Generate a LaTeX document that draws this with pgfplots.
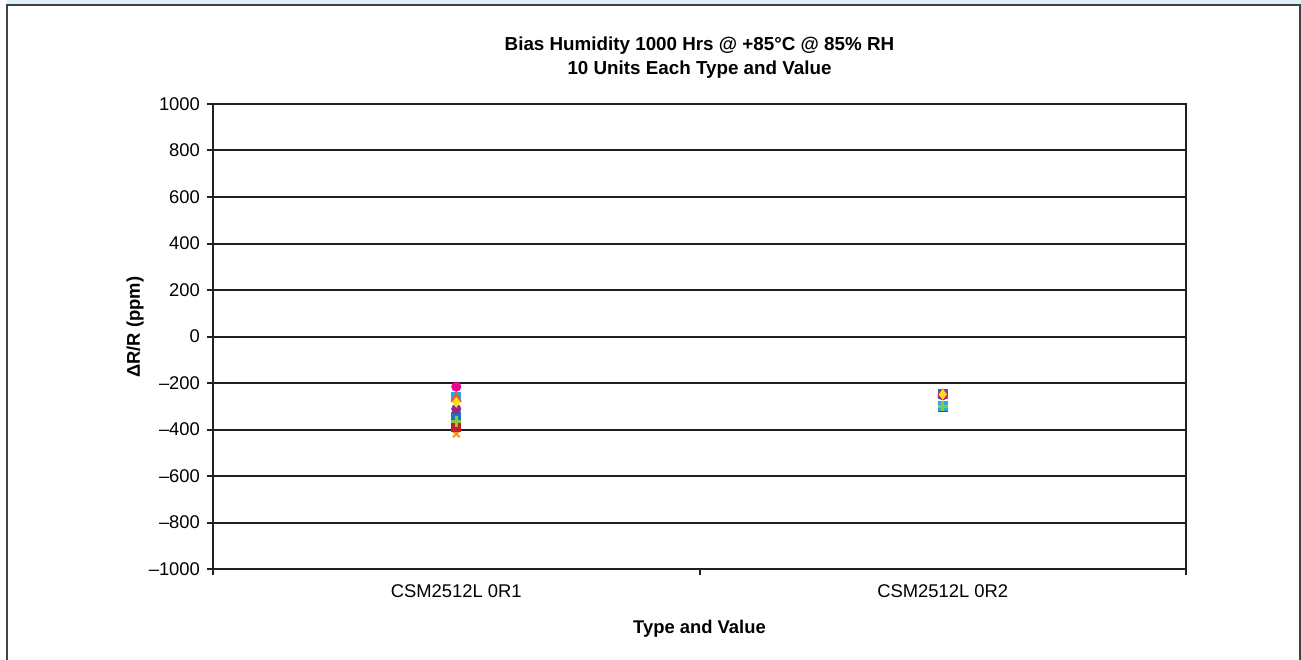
\documentclass[border=0pt]{standalone}
\usepackage{pgfplots}
\pgfplotsset{compat=1.18}
\usepackage{fontspec}
\setmainfont{Liberation Sans}
\definecolor{gridc}{HTML}{231F20}
\definecolor{cMag}{HTML}{EC008C}
\definecolor{cOra}{HTML}{F15A29}
\definecolor{cCya}{HTML}{27AAE1}
\definecolor{cYel}{HTML}{FFDE17}
\definecolor{cPur}{HTML}{92278F}
\definecolor{cBlu}{HTML}{1C75BC}
\definecolor{cGre}{HTML}{8DC63F}
\definecolor{cDre}{HTML}{BE1E2D}
\definecolor{cXor}{HTML}{F7941D}
\definecolor{cRed}{HTML}{ED1C24}
\definecolor{strip}{HTML}{DDEFF9}
\begin{document}
\begin{tikzpicture}[x=1pt,y=1pt]
\useasboundingbox (0,0) rectangle (650.5,329.5);
\fill[strip] (3.5,327) rectangle (650.5,329.5);
\draw[gridc!85,line width=0.9pt] (3.5,-2) -- (3.5,327) -- (650,327) -- (650,-2);
\node[font=\fontsize{9.4}{11}\selectfont\bfseries] at (349.75,306.5) {Bias Humidity 1000 Hrs @ +85°C @ 85\% RH};
\node[font=\fontsize{9.4}{11}\selectfont\bfseries] at (349.75,294.5) {10 Units Each Type and Value};
\begin{axis}[
  at={(106.5pt,45pt)}, anchor=south west,
  scale only axis, width=486.5pt, height=232.5pt,
  xmin=0, xmax=2, ymin=-1000, ymax=1000,
  axis line style={gridc, line width=1pt},
  ytick={-1000,-800,...,1000},
  yticklabels={\textendash1000,\textendash800,\textendash600,\textendash400,\textendash200,0,200,400,600,800,1000},
  ymajorgrids, major grid style={gridc, line width=1pt},
  tick align=outside,
  ytick pos=left, xtick pos=bottom,
  tick style={gridc, line width=1pt},
  major tick length=3pt,
  xtick={0,1,2},
  xticklabels={},
  extra x ticks={0.5,1.5},
  extra x tick labels={CSM2512L 0R1,CSM2512L 0R2},
  extra x tick style={major tick length=0pt, grid=none},
  ticklabel style={font=\fontsize{9.2}{11}\selectfont},
  xticklabel style={yshift=-4.5pt},
  xlabel={\bfseries Type and Value},
  ylabel={\bfseries ΔR/R (ppm)},
  label style={font=\fontsize{9.2}{11}\selectfont},
  xlabel style={at={(axis description cs:0.5,0)}, anchor=center, yshift=-30pt},
  ylabel style={at={(axis description cs:-0.08,0.52)}, anchor=center},
  clip=false,
]
\addplot[only marks, mark=square*, mark size=2.2pt, color=cBlu] coordinates {(0.5,-345) (1.5,-246)};
\addplot[only marks, mark=square*, mark size=1.3pt, color=cRed] coordinates {(0.5,-403) (1.5,-303)};
\addplot[only marks, mark=x, mark size=2.4pt, line width=1pt, color=cXor] coordinates {(0.5,-419) (1.5,-301)};
\addplot[only marks, mark=square*, mark size=2.2pt, color=cDre] coordinates {(0.5,-390) (1.5,-302)};
\addplot[only marks, mark=*, mark size=2.3pt, color=cPur] coordinates {(0.5,-312) (1.5,-253)};
\addplot[only marks, mark=square*, mark size=2.2pt, color=cCya] coordinates {(0.5,-260) (1.5,-297)};
\addplot[only marks, mark=+, mark size=2.6pt, line width=1.3pt, color=cGre] coordinates {(0.5,-366) (1.5,-300)};
\addplot[only marks, mark=triangle*, mark size=2.8pt, color=cOra] coordinates {(0.5,-266) (1.5,-250)};
\addplot[only marks, mark=*, mark size=2.3pt, color=cMag] coordinates {(0.5,-216) (1.5,-251)};
\addplot[only marks, mark=diamond*, mark size=2.4pt, color=cYel] coordinates {(0.5,-283) (1.5,-249)};
\end{axis}
\end{tikzpicture}
\end{document}
